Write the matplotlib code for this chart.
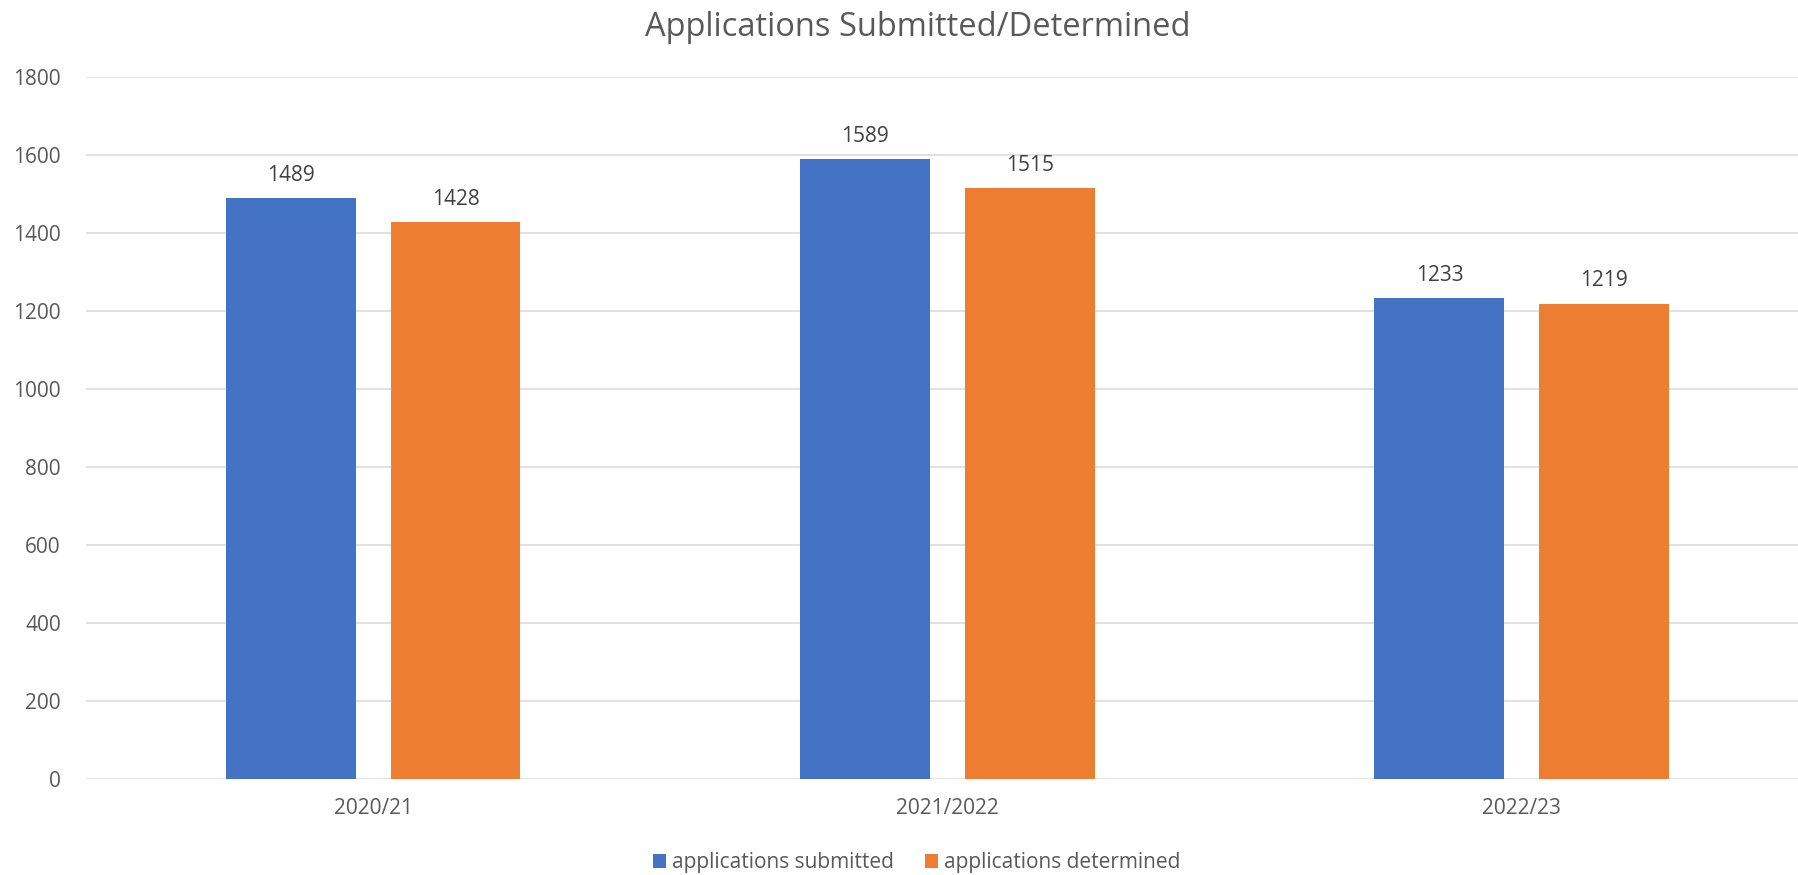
import matplotlib
matplotlib.use("Agg")
import matplotlib.pyplot as plt
import numpy as np

categories = ["2020/21", "2021/2022", "2022/23"]
submitted = [1489, 1589, 1233]
determined = [1428, 1515, 1219]
series_names = ["applications submitted", "applications determined"]
yticks = [0, 200, 400, 600, 800, 1000, 1200, 1400, 1600, 1800]

plt.rcParams['font.family'] = ['Open Sans', 'DejaVu Sans']
txt = '#595959'

fig = plt.figure(figsize=(17.98, 8.75), dpi=100)
ax = fig.add_axes([0.0478, 0.1097, 0.9583, 0.8023])

x = np.arange(len(categories))
w = 0.226
off = 0.1435
b1 = ax.bar(x - off, submitted, w, color='#4472C4', label=series_names[0], zorder=3)
b2 = ax.bar(x + off, determined, w, color='#ED7D31', label=series_names[1], zorder=3)

for bars in (b1, b2):
    for r in bars:
        ax.annotate(f"{int(r.get_height())}", (r.get_x() + r.get_width() / 2, r.get_height()),
                    xytext=(0, 9), textcoords='offset points', ha='center', va='bottom',
                    fontsize=15, color='#404040')

ax.set_xlim(-0.5, len(categories) - 0.5)
ax.set_ylim(0, 1800)
ax.set_yticks(yticks)
ax.set_xticks(x)
ax.set_xticklabels(categories)
ax.yaxis.grid(True, color='#d9d9d9', linewidth=1.1, zorder=0)
ax.set_axisbelow(True)
for s in ['top', 'right', 'left', 'bottom']:
    ax.spines[s].set_visible(False)
ax.tick_params(axis='both', length=0, labelsize=15, colors=txt)
ax.tick_params(axis='y', pad=18)
ax.tick_params(axis='x', pad=14)

fig.suptitle("Applications Submitted/Determined", fontsize=23.5, color=txt, y=0.988, va='top', x=0.5105)

fig.legend(loc='center', bbox_to_anchor=(0.51, 0.014), ncol=2, frameon=False, fontsize=15,
           handlelength=0.6, handleheight=0.6, handletextpad=0.3, columnspacing=1.5,
           labelcolor=txt)

fig.savefig("out.png", dpi=100)
